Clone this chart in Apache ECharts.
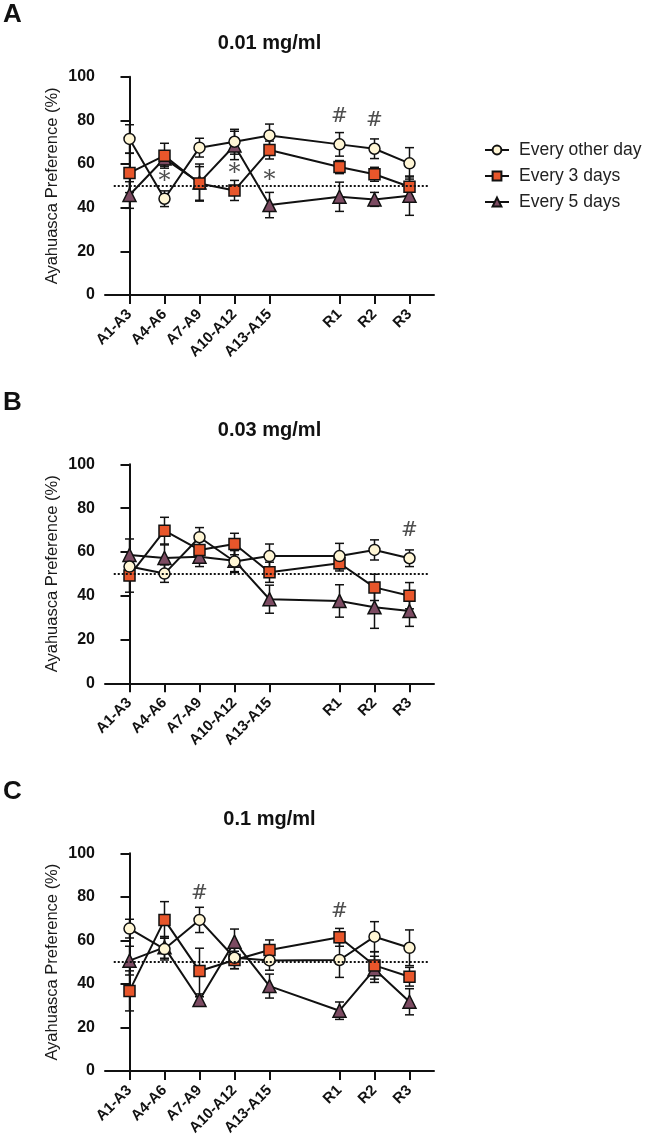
<!DOCTYPE html>
<html>
<head>
<meta charset="utf-8">
<script src="https://cdn.jsdelivr.net/npm/echarts@6/dist/echarts.min.js"></script>
<style>
html,body{margin:0;padding:0;background:#fff}
#chart{width:645px;height:1142px}
</style>
</head>
<body>
<div id="chart"></div>
<script>
// x positions (gap between A13-A15 and R1) and their labels
var xPos = [0, 1, 2, 3, 4, 6, 7, 8];
var xLabels = ['A1-A3', 'A4-A6', 'A7-A9', 'A10-A12', 'A13-A15', 'R1', 'R2', 'R3'];
var seriesNames = ['Every other day', 'Every 3 days', 'Every 5 days'];
var panelTitles = ['0.01 mg/ml', '0.03 mg/ml', '0.1 mg/ml'];
var panelLetters = ['A', 'B', 'C'];
var chanceLevel = 50;

// panel A - 0.01 mg/ml
var A_other = [71.5, 44.1, 67.5, 70.2, 73.1, 69.0, 67.0, 60.3];
var A_otherErr = [6.5, 3.6, 4.3, 5.7, 5.2, 5.4, 4.5, 7.2];
var A_3days = [55.9, 63.8, 51.1, 47.9, 66.4, 58.6, 55.3, 49.6];
var A_3daysErr = [9.0, 5.7, 7.7, 4.6, 4.1, 3.0, 3.2, 4.5];
var A_5days = [45.8, 62.5, 51.5, 68.5, 41.2, 45.0, 43.8, 45.5];
var A_5daysErr = [6.1, 3.5, 8.5, 6.5, 5.8, 6.7, 3.2, 9.0];
var A_marks = [[1, 54, '*'], [3, 57.7, '*'], [4, 54.7, '*'], [6, 81.8, '#'], [7, 79.8, '#']];

// panel B - 0.03 mg/ml
var B_other = [53.3, 50.1, 66.7, 55.6, 58.1, 58.1, 60.9, 57.1];
var B_otherErr = [3.5, 4.0, 4.4, 5.0, 5.5, 5.8, 4.6, 3.8];
var B_3days = [49.2, 69.7, 60.9, 63.6, 50.7, 54.8, 43.8, 40.0];
var B_3daysErr = [7.6, 6.1, 4.0, 4.9, 4.6, 3.5, 6.0, 6.0];
var B_5days = [58.6, 57.2, 57.8, 56.0, 38.4, 37.6, 34.7, 33.0];
var B_5daysErr = [7.3, 6.0, 4.5, 5.0, 6.4, 7.4, 9.6, 7.0];
var B_marks = [[8, 69.5, '#']];

// panel C - 0.1 mg/ml
var C_other = [65.4, 56.0, 69.4, 52.0, 50.8, 51.0, 61.7, 56.6];
var C_otherErr = [4.3, 5.0, 5.8, 5.0, 4.5, 8.0, 6.9, 8.2];
var C_3days = [36.8, 69.4, 45.9, 51.0, 55.6, 61.4, 48.5, 43.3];
var C_3daysErr = [9.2, 8.4, 10.5, 4.0, 4.6, 4.1, 6.3, 4.3];
var C_5days = [50.7, 56.8, 32.6, 59.4, 39.0, 27.7, 46.7, 31.8];
var C_5daysErr = [6.6, 5.0, 1.5, 5.8, 5.5, 4.0, 6.0, 6.0];
var C_marks = [[2, 81.6, '#'], [6, 73.2, '#']];

var panels = [
  {means: [A_other, A_3days, A_5days], errs: [A_otherErr, A_3daysErr, A_5daysErr], marks: A_marks},
  {means: [B_other, B_3days, B_5days], errs: [B_otherErr, B_3daysErr, B_5daysErr], marks: B_marks},
  {means: [C_other, C_3days, C_5days], errs: [C_otherErr, C_3daysErr, C_5daysErr], marks: C_marks}
];

var font = 'Liberation Sans, Arial, sans-serif';
var gridTops = [76.7, 464.3, 853.3];
var gridHeights = [218.3, 219, 217.7];
var titleY = [43, 430.5, 819.5];
var letterY = [2, 389.5, 778.5];
var symbols = ['circle', 'rect', 'triangle'];
var symbolSizes = [11, 11, 13];
var fills = ['#FFF6D5', '#E8562B', '#7C4B62'];
var drawOrder = [2, 1, 0];

var chart = echarts.init(document.getElementById('chart'));

var grids = [], xAxes = [], yAxes = [], series = [], graphics = [];

panels.forEach(function (p, pi) {
  grids.push({left: 105, top: gridTops[pi], width: 329, height: gridHeights[pi]});
  xAxes.push({
    type: 'value', gridIndex: pi, min: -0.7, max: 8.7,
    axisLine: {lineStyle: {color: '#111', width: 2}},
    axisTick: {show: true, length: 9, lineStyle: {color: '#111', width: 2}, customValues: xPos},
    axisLabel: {
      customValues: xPos, rotate: 45, margin: 17,
      fontFamily: font, fontWeight: 'bold', fontSize: 15, color: '#111',
      formatter: function (v) { return xLabels[xPos.indexOf(Math.round(v))] || ''; }
    },
    splitLine: {show: false}
  });
  yAxes.push({
    type: 'value', gridIndex: pi, min: 0, max: 100, interval: 20,
    name: 'Ayahuasca Preference (%)', nameLocation: 'middle', nameGap: 44,
    nameMoveOverlap: false,
    nameTextStyle: {fontFamily: font, fontSize: 16.5, color: '#1a1a1a'},
    axisLine: {show: true, lineStyle: {color: '#111', width: 2}},
    axisTick: {show: true, length: 9, lineStyle: {color: '#111', width: 2}},
    axisLabel: {fontFamily: font, fontWeight: 'bold', fontSize: 16, color: '#111', margin: 10},
    splitLine: {show: false}
  });

  // error bars
  drawOrder.forEach(function (si) {
    var data = xPos.map(function (x, i) { return [x, p.means[si][i], p.errs[si][i]]; });
    series.push({
      type: 'custom', xAxisIndex: pi, yAxisIndex: pi, silent: true, z: 1,
      data: data,
      renderItem: function (params, api) {
        var x = api.value(0), y = api.value(1), e = api.value(2);
        var top = api.coord([x, y + e]);
        var bot = api.coord([x, y - e]);
        var w = 4.5;
        var st = {stroke: '#111', lineWidth: 1.5};
        return {type: 'group', children: [
          {type: 'line', shape: {x1: top[0], y1: top[1], x2: bot[0], y2: bot[1]}, style: st},
          {type: 'line', shape: {x1: top[0] - w, y1: top[1], x2: top[0] + w, y2: top[1]}, style: st},
          {type: 'line', shape: {x1: bot[0] - w, y1: bot[1], x2: bot[0] + w, y2: bot[1]}, style: st}
        ]};
      }
    });
  });

  // lines with markers
  drawOrder.forEach(function (si, k) {
    var s = {
      type: 'line', name: seriesNames[si], xAxisIndex: pi, yAxisIndex: pi, z: 2,
      data: xPos.map(function (x, i) { return [x, p.means[si][i]]; }),
      symbol: symbols[si], symbolSize: symbolSizes[si],
      lineStyle: {color: '#111', width: 2},
      itemStyle: {color: fills[si], borderColor: '#111', borderWidth: 1.5},
      emphasis: {disabled: true}, animation: false
    };
    if (k === 0) {
      s.markLine = {
        silent: true, symbol: 'none', label: {show: false},
        lineStyle: {type: 'dotted', color: '#111', width: 2},
        data: [[{coord: [-0.45, chanceLevel]}, {coord: [8.55, chanceLevel]}]]
      };
    }
    series.push(s);
  });

  // significance marks
  series.push({
    type: 'scatter', xAxisIndex: pi, yAxisIndex: pi, symbolSize: 0, z: 3, silent: true,
    data: p.marks.map(function (m) {
      var star = m[2] === '*';
      return {value: [m[0], m[1]], label: {formatter: m[2], fontSize: star ? 24 : 20, offset: [0, star ? 5 : 0]}};
    }),
    label: {show: true, position: 'inside', fontFamily: 'DejaVu Serif, serif', color: '#222'}
  });

  graphics.push({
    type: 'text', x: 269.5, y: titleY[pi],
    style: {text: panelTitles[pi], fontFamily: font, fontWeight: 'bold', fontSize: 20, fill: '#111', align: 'center', verticalAlign: 'middle'}
  });
  graphics.push({
    type: 'text', left: 3, top: letterY[pi],
    style: {text: panelLetters[pi], fontFamily: font, fontWeight: 'bold', fontSize: 26, fill: '#111'}
  });
});

chart.setOption({
  animation: false,
  grid: grids,
  xAxis: xAxes,
  yAxis: yAxes,
  legend: {
    data: seriesNames, orient: 'vertical', left: 479, top: 136, itemGap: 8,
    itemWidth: 24, itemHeight: 11,
    textStyle: {fontFamily: font, fontSize: 17.5, color: '#222', padding: [0, 0, 0, 5]}
  },
  graphic: graphics,
  series: series
});
</script>
</body>
</html>
